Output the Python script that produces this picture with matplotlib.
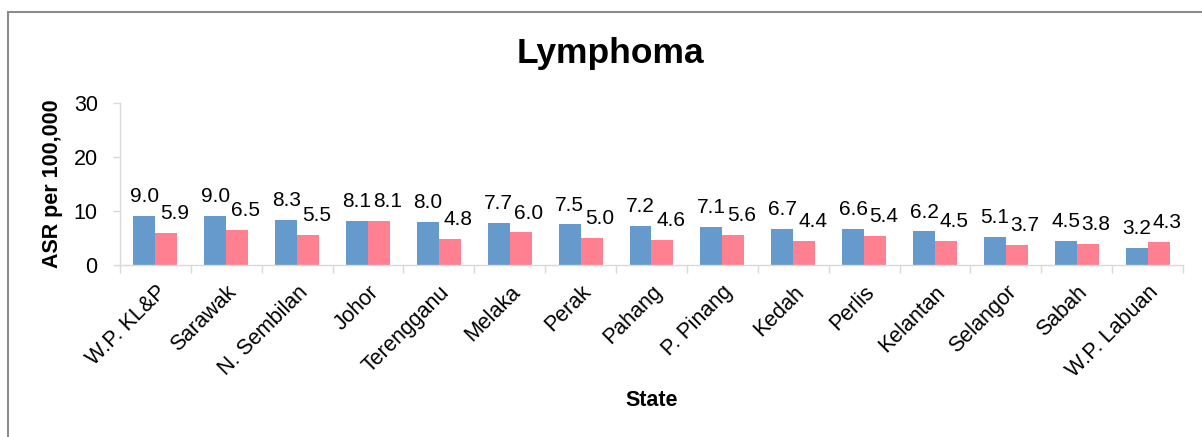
import numpy as np
import matplotlib
matplotlib.use("Agg")
import matplotlib.pyplot as plt
from matplotlib.patches import Rectangle

plt.rcParams['font.family'] = ['Liberation Sans', 'DejaVu Sans']

states = ["W.P. KL&P", "Sarawak", "N. Sembilan", "Johor", "Terengganu", "Melaka",
          "Perak", "Pahang", "P. Pinang", "Kedah", "Perlis", "Kelantan",
          "Selangor", "Sabah", "W.P. Labuan"]
male = [9.0, 9.0, 8.3, 8.1, 8.0, 7.7, 7.5, 7.2, 7.1, 6.7, 6.6, 6.2, 5.1, 4.5, 3.2]
female = [5.9, 6.5, 5.5, 8.1, 4.8, 6.0, 5.0, 4.6, 5.6, 4.4, 5.4, 4.5, 3.7, 3.8, 4.3]

BLUE = '#6699cc'
PINK = '#ff8090'
AXIS_GREY = '#d9d9d9'

fig = plt.figure(figsize=(12.02, 4.37), dpi=100)
ax = fig.add_axes([0.0998, 0.394, 0.8844, 0.370])

x = np.arange(len(states))
w = 0.31
ax.bar(x - w / 2, male, width=w, color=BLUE, zorder=2)
ax.bar(x + w / 2, female, width=w, color=PINK, zorder=2)

# data labels
for i in range(len(states)):
    ax.annotate(f"{male[i]:.1f}", (x[i] - w / 2, male[i]), xytext=(0, 10),
                textcoords='offset points', ha='center', va='baseline', fontsize=15)
    ax.annotate(f"{female[i]:.1f}", (x[i] + w / 2, female[i]), xytext=(6, 10),
                textcoords='offset points', ha='center', va='baseline', fontsize=15)

ax.set_xlim(-0.5, len(states) - 0.5)
ax.set_ylim(0, 30)
ax.set_yticks([0, 10, 20, 30])

ax.set_xticks(x)
ax.set_xticklabels(states, rotation=45, ha='right', rotation_mode='anchor', fontsize=15.5)
ax.set_xticks(np.arange(-0.5, len(states)), minor=True)
ax.tick_params(axis='x', which='major', length=0, pad=12)
ax.tick_params(axis='x', which='minor', length=6, width=1, color=AXIS_GREY, direction='out')
ax.tick_params(axis='y', length=5, width=1, color=AXIS_GREY, labelsize=15.5, pad=11)

for s in ['top', 'right']:
    ax.spines[s].set_visible(False)
ax.spines['left'].set_color(AXIS_GREY)
ax.spines['bottom'].set_color(AXIS_GREY)
ax.spines['left'].set_linewidth(1)
ax.spines['bottom'].set_linewidth(1)

ax.set_ylabel('ASR per 100,000', fontsize=15.5, fontweight='bold', labelpad=8)
fig.text(0.542, 0.083, 'State', fontsize=15.5, fontweight='bold', ha='center', va='center')
fig.text(0.508, 0.878, 'Lymphoma', fontsize=25.5, fontweight='bold', ha='center', va='center')

# chart area border
fig.patches.append(Rectangle((8 / 1202, -0.05), 1.2, 1 - 11.5 / 437 + 0.05,
                             transform=fig.transFigure, fill=False,
                             edgecolor='#8c8c8c', linewidth=1.5))

fig.savefig('out.png', dpi=100)
